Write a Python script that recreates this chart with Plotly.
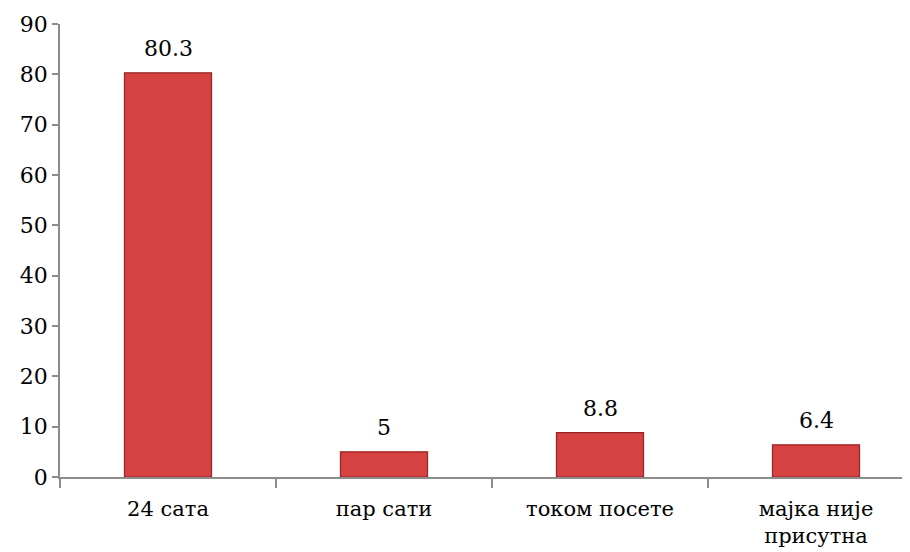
import plotly.graph_objects as go

categories = ["24 сата", "пар сати", "током посете", "мајка није<br>присутна"]
values = [80.3, 5, 8.8, 6.4]
value_labels = ["80.3", "5", "8.8", "6.4"]
y_ticks = [0, 10, 20, 30, 40, 50, 60, 70, 80, 90]

font_family = "DejaVu Serif"

fig = go.Figure()
fig.add_trace(go.Bar(
    x=categories,
    y=values,
    marker=dict(color="#d64141", line=dict(color="#9a2222", width=1.2)),
    width=0.403,
))

for c, v, t in zip(categories, values, value_labels):
    fig.add_annotation(
        x=c, y=v, text=t, showarrow=False, yanchor="bottom", yshift=10,
        font=dict(family=font_family, size=22, color="#000000"),
    )

fig.update_layout(
    width=910, height=552,
    margin=dict(l=52, r=8, t=16, b=83),
    paper_bgcolor="white", plot_bgcolor="white",
    showlegend=False,
    font=dict(family=font_family, size=21, color="#000000"),
)
fig.update_xaxes(
    type="category",
    range=[-0.5, -0.5 + 850 / 216],
    automargin=False,
    showline=True, linecolor="#8c8c8c", linewidth=1.5,
    ticks="outside", tickson="boundaries", ticklen=9, tickcolor="#8c8c8c", tickwidth=1.5,
    ticklabelstandoff=12,
    showgrid=False,
    tickfont=dict(family=font_family, size=21, color="#000000"),
)
fig.update_yaxes(
    range=[0, 90],
    automargin=False,
    tickvals=y_ticks,
    showline=True, linecolor="#8c8c8c", linewidth=1.5,
    ticks="outside", ticklen=6, tickcolor="#8c8c8c", tickwidth=1.5,
    showgrid=False, zeroline=False,
    tickfont=dict(family=font_family, size=22, color="#000000"),
)

fig.write_html("out.html")
